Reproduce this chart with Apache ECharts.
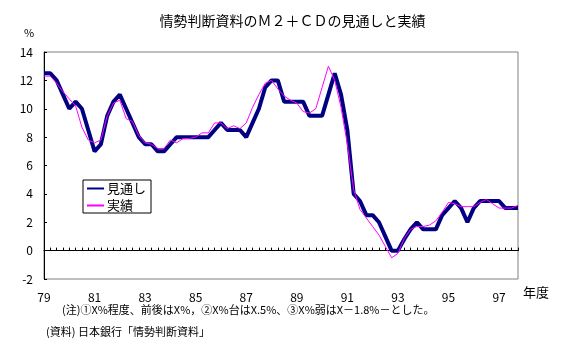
<!DOCTYPE html>
<html>
<head>
<meta charset="utf-8">
<script src="https://cdn.jsdelivr.net/npm/echarts@6/dist/echarts.min.js"></script>
<style>
  html, body { margin: 0; padding: 0; background: #fff; }
  #chart { width: 585px; height: 352px; }
</style>
</head>
<body>
<div id="chart"></div>
<script>
// 年度（四半期ごと）
const years = ['79', '80', '81', '82', '83', '84', '85', '86', '87', '88',
  '89', '90', '91', '92', '93', '94', '95', '96', '97']
const quarters = years.flatMap(y => [y + '-1', y + '-2', y + '-3', y + '-4'])

// 見通し（情勢判断資料）
const mitoshi = [
  12.5, 12.5, 12, 11, 10, 10.5, 10, 8.5, 7, 7.5,
  9.5, 10.5, 11, 10, 9, 8, 7.5, 7.5, 7, 7,
  7.5, 8, 8, 8, 8, 8, 8, 8.5, 9, 8.5,
  8.5, 8.5, 8, 9, 10, 11.5, 12, 12, 10.5, 10.5,
  10.5, 10.5, 9.5, 9.5, 9.5, 11, 12.5, 11, 8.5, 4,
  3.5, 2.5, 2.5, 2, 1, 0, 0, 0.8, 1.5, 2,
  1.5, 1.5, 1.5, 2.5, 3, 3.5, 3, 2, 3, 3.5,
  3.5, 3.5, 3.5, 3, 3, 3
]

// 実績
const jisseki = [
  12.3, 12.3, 11.8, 11.2, 10.7, 10.2, 8.7, 7.8, 7.6, 7.8,
  9.5, 10.4, 10.6, 9.3, 9.1, 8.1, 7.6, 7.5, 7.2, 7.2,
  7.8, 7.6, 7.9, 7.9, 8.0, 8.3, 8.3, 9.0, 9.0, 8.6,
  8.8, 8.6, 9.0, 10.1, 11.0, 11.8, 12.0, 11.4, 10.9, 10.6,
  10.4, 9.8, 9.7, 10.0, 11.5, 13.0, 12.0, 10.1, 7.5, 4.3,
  2.9, 2.3, 1.7, 1.1, 0.3, -0.5, -0.2, 0.85, 1.5, 1.7,
  1.7, 1.8, 2.1, 2.7, 3.4, 3.3, 3.1, 3.1, 3.1, 3.4,
  3.6, 3.3, 3.0, 3.0, 3.0, 3.2
]

const yTicks = { min: -2, max: 14, interval: 2 }

const FONT = '"Noto Sans CJK JP", "Noto Sans", sans-serif'

const chart = echarts.init(document.getElementById('chart'))

chart.setOption({
  animation: false,
  backgroundColor: '#fff',
  title: {
    text: '情勢判断資料のＭ２＋ＣＤの見通しと実績',
    left: 'center',
    top: 9,
    textStyle: { fontFamily: FONT, fontSize: 14, fontWeight: 'normal', color: '#000' }
  },
  legend: {
    data: ['見通し', '実績'],
    orient: 'vertical',
    left: 83,
    top: 180,
    padding: [2, 5, 1, 3],
    itemWidth: 17,
    itemHeight: 14,
    itemGap: 4,
    borderColor: '#000',
    borderWidth: 1,
    backgroundColor: '#fff',
    // 凡例は線だけ（丸は消す）
    itemStyle: { opacity: 0 },
    textStyle: { fontFamily: FONT, fontSize: 13, color: '#000', padding: [0, 0, 0, -2] }
  },
  grid: {
    left: 44,
    right: 67,
    top: 52,
    bottom: 73,
    show: true,
    borderColor: '#808080',
    borderWidth: 1
  },
  xAxis: [
    {
      // 下の年度ラベル
      type: 'category',
      data: quarters,
      boundaryGap: false,
      position: 'bottom',
      axisLine: { show: false, onZero: false },
      axisTick: { show: false },
      splitLine: { show: false },
      axisLabel: {
        interval: (i) => i % 8 === 0,
        formatter: (v) => v.split('-')[0],
        margin: 12,
        fontFamily: FONT,
        fontSize: 12,
        color: '#000'
      }
    },
    {
      // ゼロ線と目盛り
      type: 'category',
      data: quarters,
      boundaryGap: false,
      position: 'top',
      axisLine: { show: true, onZero: true, lineStyle: { color: '#000', width: 1 } },
      axisTick: { show: true, interval: 0, length: 3, lineStyle: { color: '#000' } },
      axisLabel: { show: false },
      splitLine: { show: false }
    }
  ],
  yAxis: {
    type: 'value',
    min: yTicks.min,
    max: yTicks.max,
    interval: yTicks.interval,
    axisLine: { show: true, onZero: false, lineStyle: { color: '#000', width: 1 } },
    axisTick: { show: true, inside: true, length: 3, lineStyle: { color: '#000' } },
    splitLine: { show: false },
    axisLabel: { margin: 11, fontFamily: FONT, fontSize: 12, color: '#000' }
  },
  series: [
    {
      name: '見通し',
      type: 'line',
      data: mitoshi,
      symbol: 'none',
      lineStyle: { color: '#000080', width: 4 },
      itemStyle: { color: '#000080' }
    },
    {
      name: '実績',
      type: 'line',
      data: jisseki,
      xAxisIndex: 1,
      symbol: 'none',
      lineStyle: { color: '#ff00ff', width: 1 },
      itemStyle: { color: '#ff00ff' }
    }
  ],
  graphic: [
    {
      type: 'text', left: 24, top: 27,
      style: { text: '%', font: '11px ' + FONT, fill: '#000' }
    },
    {
      type: 'text', left: 523, top: 286,
      style: { text: '年度', font: '13px ' + FONT, fill: '#000' }
    },
    {
      type: 'text', left: 62, top: 304,
      style: { text: '(注)①X%程度、前後はX%，②X%台はX.5%、③X%弱はX－1.8%－とした。', font: '11px ' + FONT, fill: '#000' }
    },
    {
      type: 'text', left: 46, top: 326,
      style: { text: '(資料) 日本銀行「情勢判断資料」', font: '11px ' + FONT, fill: '#000' }
    }
  ]
})

window.addEventListener('resize', () => chart.resize())
</script>
</body>
</html>
